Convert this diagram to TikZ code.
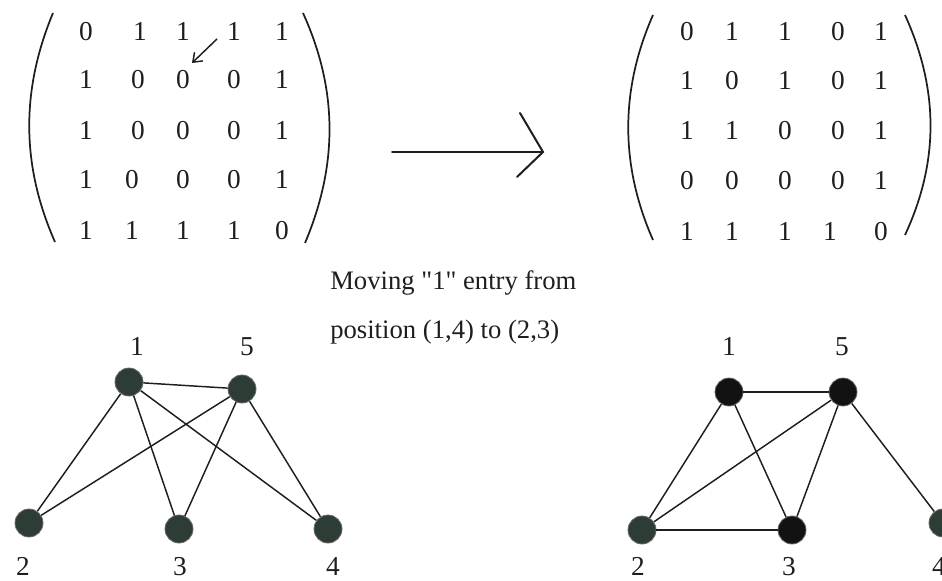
\documentclass[tikz,border=0pt]{standalone}
\usepackage{fontspec}
\setmainfont{Liberation Serif}
\newfontfamily\capfont{Liberation Serif}
\usetikzlibrary{arrows.meta}
\definecolor{ink}{HTML}{1E1E1E}
\definecolor{vgreen}{HTML}{2E3C36}
\definecolor{vblack}{HTML}{121212}
\definecolor{vrim}{HTML}{6A6A6A}
\tikzset{
  entry/.style={anchor=base,inner sep=0pt,text=ink,font=\fontsize{20.5pt}{24pt}\selectfont},
  lbl/.style={anchor=base,inner sep=0pt,text=ink,font=\fontsize{20.5pt}{24pt}\selectfont},
  note/.style={anchor=base west,inner sep=0pt,text=ink,font=\capfont\fontsize{20pt}{24pt}\selectfont},
  vtx/.style={circle,minimum size=21pt,inner sep=0pt,fill=vgreen,draw=vrim,line width=0.6pt},
  vtxb/.style={vtx,fill=vblack},
  edge/.style={draw=ink,line width=1.1pt},
  paren/.style={draw=ink,line width=1.3pt},
  arr/.style={draw=ink,line width=1.5pt,line cap=round},
}
\begin{document}
\begin{tikzpicture}[x=0.75pt,y=-0.75pt]
\useasboundingbox (0,0) rectangle (942,581);
\clip (0,0) rectangle (942,581);
% ---------- left matrix ----------
\foreach \r/\y/\a/\b/\c/\d/\e/\xb in {
  1/41/0/1/1/1/1/140,
  2/89/1/0/0/0/1/138,
  3/140/1/0/0/0/1/138,
  4/189/1/0/0/0/1/132,
  5/239/1/1/1/1/0/132}{
  \node[entry] (L\r c1) at (86,\y) {\a};
  \node[entry] (L\r c2) at (\xb,\y) {\b};
  \node[entry] (L\r c3) at (183,\y) {\c};
  \node[entry] (L\r c4) at (234,\y) {\d};
  \node[entry] (L\r c5) at (282,\y) {\e};
}
\path[paren] (53,13) .. controls (21,90) and (21,165) .. (55,242);
\path[paren] (303,13) .. controls (338,90) and (338,165) .. (305,243);
% small arrow
\coordinate (sa1) at (217,39);
\coordinate (sa2) at (192,63);
\draw[ink,line width=1.1pt,-{Straight Barb[length=6pt,width=9pt]}] (sa1) -- (sa2);
% ---------- big arrow ----------
\coordinate (ba1) at (392,152);
\coordinate (ba2) at (543,152);
\coordinate (bh1) at (520,113);
\coordinate (bh2) at (517,177);
\path[arr] (ba1) -- (ba2);
\path[arr] (bh1) -- (ba2) -- (bh2);
% ---------- right matrix ----------
\foreach \r/\y/\a/\b/\c/\d/\e/\xd in {
  1/41/0/1/1/0/1/838,
  2/90/1/0/1/0/1/838,
  3/140/1/1/0/0/1/838,
  4/190/0/0/0/0/1/838,
  5/240/1/1/1/1/0/830}{
  \node[entry] (R\r c1) at (687,\y) {\a};
  \node[entry] (R\r c2) at (732,\y) {\b};
  \node[entry] (R\r c3) at (785,\y) {\c};
  \node[entry] (R\r c4) at (\xd,\y) {\d};
  \node[entry] (R\r c5) at (881,\y) {\e};
}
\path[paren] (653,15) .. controls (620,90) and (620,165) .. (653,240);
\path[paren] (905,15) .. controls (939,90) and (939,162) .. (905,235);
% ---------- caption ----------
\node[note] (cap1) at (330,289) {Moving "1" entry from};
\node[note] (cap2) at (330,338) {position (1,4) to (2,3)};
% ---------- left graph ----------
\node[vtx] (a1) at (129,382) {};
\node[vtx] (a5) at (242,389) {};
\node[vtx] (a2) at (29,523) {};
\node[vtx] (a3) at (179,529) {};
\node[vtx] (a4) at (328,529) {};
\path[edge] (a1) -- (a5);
\path[edge] (a1) -- (a2);
\path[edge] (a1) -- (a3);
\path[edge] (a1) -- (a4);
\path[edge] (a5) -- (a2);
\path[edge] (a5) -- (a3);
\path[edge] (a5) -- (a4);
\node[lbl] (la1) at (137,355) {1};
\node[lbl] (la5) at (247,355) {5};
\node[lbl] (la2) at (23,575) {2};
\node[lbl] (la3) at (180,575) {3};
\node[lbl] (la4) at (333,575) {4};
% ---------- right graph ----------
\node[vtxb] (b1) at (729,392) {};
\node[vtxb] (b5) at (843,392) {};
\node[vtx]  (b2) at (642,530) {};
\node[vtxb] (b3) at (792,530) {};
\node[vtx]  (b4) at (943,523) {};
\path[edge] (b1) -- (b5);
\path[edge] (b1) -- (b2);
\path[edge] (b1) -- (b3);
\path[edge] (b5) -- (b2);
\path[edge] (b5) -- (b3);
\path[edge] (b5) -- (b4);
\path[edge] (b2) -- (b3);
\node[lbl] (lb1) at (729,355) {1};
\node[lbl] (lb5) at (842,355) {5};
\node[lbl] (lb2) at (638,575) {2};
\node[lbl] (lb3) at (789,575) {3};
\node[lbl] (lb4) at (939,575) {4};
\end{tikzpicture}
\end{document}
